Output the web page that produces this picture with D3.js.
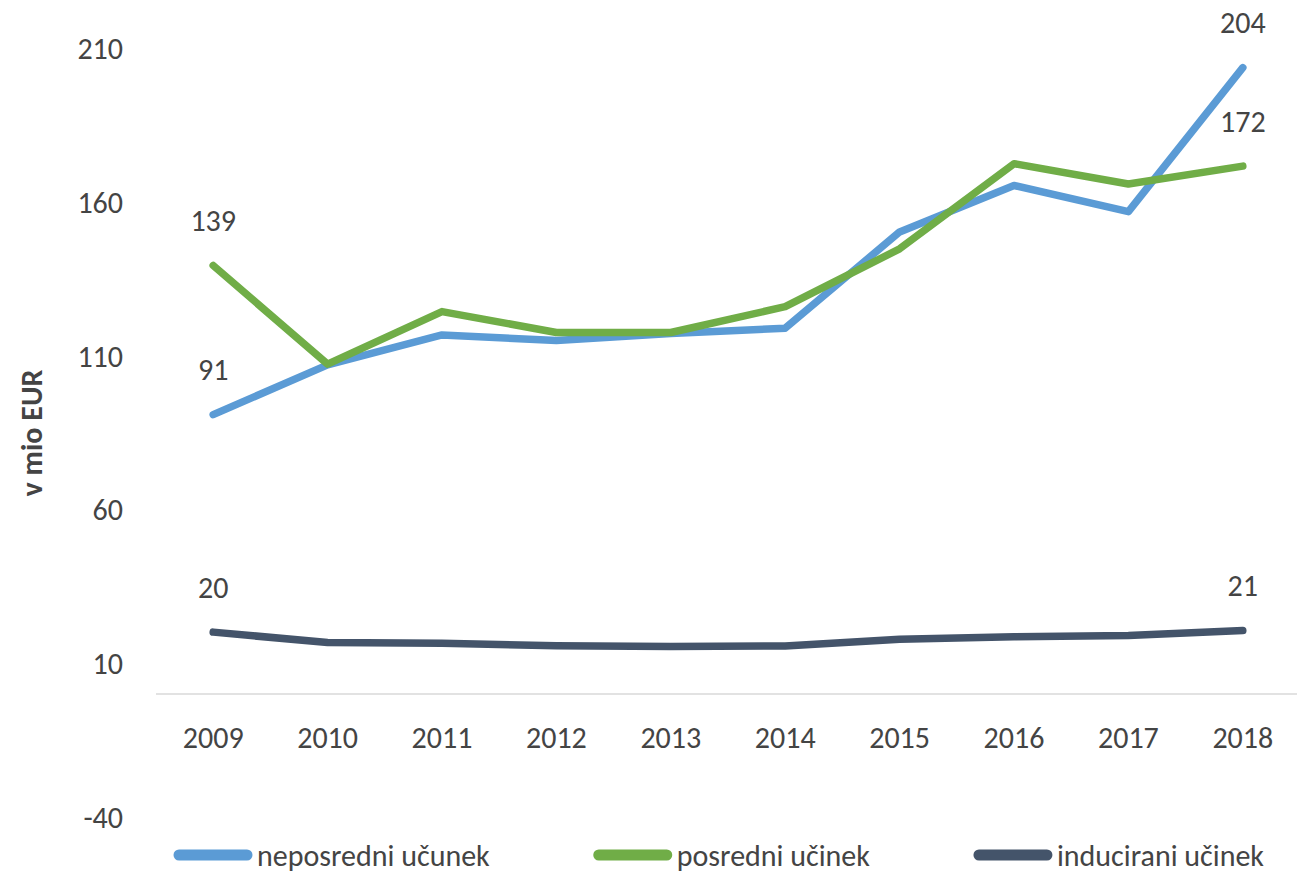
<!DOCTYPE html>
<html>
<head>
<meta charset="utf-8">
<script src="https://cdn.jsdelivr.net/npm/d3@7"></script>
<style>
  body { margin: 0; background: #fff; }
  svg text { font-family: Carlito, Calibri, Lato, sans-serif; fill: #444; }
</style>
</head>
<body>
<svg id="chart" width="1297" height="873"></svg>
<script>
  // values (mio EUR)
  var years = ["2009", "2010", "2011", "2012", "2013", "2014", "2015", "2016", "2017", "2018"];
  var neposredni = [90.8, 107, 116.7, 114.9, 117.2, 118.9, 150.2, 165.3, 156.8, 203.6];
  var posredni = [139.3, 107.2, 124.3, 117.5, 117.5, 125.9, 144.7, 172.4, 165.8, 171.6];
  var inducirani = [20.1, 16.7, 16.5, 15.7, 15.4, 15.6, 17.8, 18.6, 19.0, 20.6];
  var yTicks = [-40, 10, 60, 110, 160, 210];
  var seriesNames = ["neposredni učunek", "posredni učinek", "inducirani učinek"];
  var seriesColors = ["#5b9bd5", "#70ad47", "#44546a"];

  var series = [neposredni, posredni, inducirani].map(function( v , i ) {
    return { name: seriesNames[i], color: seriesColors[i], values: v };
  });

  var svg = d3.select( "#chart" );

  var x = d3.scalePoint().domain( years ).range( [156, 1300] ).padding( 0.5 );
  var y = d3.scaleLinear().domain( [-40, 210] ).range( [817, 48] );

  // y axis labels, no line; plain hyphen for the minus like the original
  var yAxis = svg.append( "g" )
    .attr( "transform", "translate(156,0)" )
    .call( d3.axisLeft( y ).tickValues( yTicks ).tickSize( 0 ).tickPadding( 33 )
      .tickFormat( function( d ) { return String( d ); } ) );
  yAxis.select( ".domain" ).remove();
  yAxis.selectAll( "text" ).attr( "font-size", 30 ).attr( "fill", "#444" ).attr( "dy", "0.35em" );

  // horizontal axis sits at zero
  svg.append( "line" )
    .attr( "x1", 156 ).attr( "x2", 1297 )
    .attr( "y1", y( 0 ) ).attr( "y2", y( 0 ) )
    .attr( "stroke", "#d9d9d9" ).attr( "stroke-width", 1.5 );

  svg.append( "g" ).selectAll( "text" )
    .data( years ).enter().append( "text" )
    .attr( "x", function( d ) { return x( d ); } )
    .attr( "y", 737 )
    .attr( "dy", "0.35em" )
    .attr( "text-anchor", "middle" )
    .attr( "font-size", 30 )
    .text( function( d ) { return d; } );

  svg.append( "text" )
    .attr( "transform", "translate(31,433) rotate(-90)" )
    .attr( "dy", "0.35em" )
    .attr( "text-anchor", "middle" )
    .attr( "font-size", 30 )
    .attr( "font-weight", 600 )
    .attr( "fill", "#555" )
    .text( "v mio EUR" );

  var line = d3.line()
    .x( function( d , i ) { return x( years[i] ); } )
    .y( function( d ) { return y( d ); } );

  svg.append( "g" ).selectAll( "path" )
    .data( series ).enter().append( "path" )
    .attr( "d", function( s ) { return line( s.values ); } )
    .attr( "fill", "none" )
    .attr( "stroke", function( s ) { return s.color; } )
    .attr( "stroke-width", 7.5 )
    .attr( "stroke-linejoin", "round" )
    .attr( "stroke-linecap", "round" );

  // labels only on first and last point
  var fmt = d3.format( ".0f" );
  var labels = [];
  series.forEach( function( s ) {
    [0, years.length - 1].forEach( function( i ) {
      labels.push( { year: years[i], value: s.values[i] } );
    } );
  } );
  svg.append( "g" ).selectAll( "text" )
    .data( labels ).enter().append( "text" )
    .attr( "x", function( d ) { return x( d.year ); } )
    .attr( "y", function( d ) { return y( d.value ) - 45; } )
    .attr( "dy", "0.35em" )
    .attr( "text-anchor", "middle" )
    .attr( "font-size", 30 )
    .text( function( d ) { return fmt( d.value ); } );

  // legend spread between the same left and right edges as the original
  var legend = svg.append( "g" ).attr( "transform", "translate(0,855)" );
  var items = legend.selectAll( "g" ).data( series ).enter().append( "g" );
  items.append( "line" )
    .attr( "x1", 5 ).attr( "x2", 73 )
    .attr( "stroke", function( s ) { return s.color; } )
    .attr( "stroke-width", 11 )
    .attr( "stroke-linecap", "round" );
  items.append( "text" )
    .attr( "x", 83 )
    .attr( "dy", "0.35em" )
    .attr( "font-size", 30 )
    .text( function( s ) { return s.name; } );

  var widths = [];
  items.each( function() { widths.push( 83 + this.querySelector( "text" ).getComputedTextLength() ); } );
  var left = 174, right = 1264;
  var gap = ( right - left - d3.sum( widths ) ) / ( widths.length - 1 );
  var pos = left;
  items.attr( "transform", function( d , i ) {
    var t = "translate(" + pos + ",0)";
    pos += widths[i] + gap;
    return t;
  } );
</script>
</body>
</html>
